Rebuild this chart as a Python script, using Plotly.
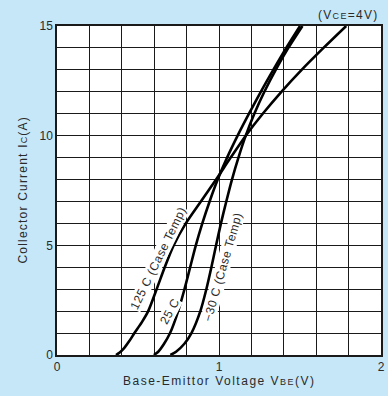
import plotly.graph_objects as go

# Base-emitter voltage (V) vs collector current (A)
ic_125 = [0, 0.1, 0.3, 0.6, 1, 1.5, 2, 3, 4, 5, 6, 7, 8, 9, 10, 11, 12, 13, 14, 15]
vbe_125 = [0.364, 0.385, 0.413, 0.443, 0.478, 0.524, 0.563, 0.615, 0.665, 0.72, 0.795, 0.888, 0.982, 1.072, 1.165, 1.27, 1.385, 1.51, 1.645, 1.785]

ic_25 = [0, 0.15, 0.5, 1, 2, 3, 4, 5, 6, 7, 8, 9, 10, 11, 12, 13, 14, 15]
vbe_25 = [0.598, 0.625, 0.66, 0.698, 0.748, 0.787, 0.822, 0.857, 0.897, 0.942, 0.992, 1.05, 1.115, 1.185, 1.258, 1.335, 1.415, 1.50]

ic_m30 = [0, 0.15, 0.5, 1, 2, 3, 4, 5, 6, 7, 8, 9, 10, 11, 12, 13, 14, 15]
vbe_m30 = [0.70, 0.735, 0.785, 0.83, 0.885, 0.922, 0.953, 0.982, 1.012, 1.045, 1.08, 1.12, 1.165, 1.218, 1.28, 1.35, 1.428, 1.515]

x_ticks = [0, 1, 2]
y_ticks = [0, 5, 10, 15]
x_grid = [round(i * 0.2, 1) for i in range(11)]
y_grid = list(range(16))

labels = ["125 C (Case Temp)", "25 C", "\u221230 C (Case Temp)"]
label_pos = [(0.626, 4.42, -64), (0.692, 1.98, -62), (1.025, 4.0, -74)]

FONT = "Liberation Sans, Arial, sans-serif"
TXT = "#2a2a2a"
BG = "#c6e7f8"


def spaced(s, px):
    return f"<span style='letter-spacing:{px}px'>{s}</span>"


fig = go.Figure()
for v, i in [(vbe_125, ic_125), (vbe_25, ic_25), (vbe_m30, ic_m30)]:
    fig.add_trace(go.Scatter(x=v, y=i, mode="lines",
                             line=dict(color="black", width=2.6, shape="spline", smoothing=0.8),
                             showlegend=False, hoverinfo="skip"))


def fmt(t):
    return str(int(round(t)))


fig.update_xaxes(range=[0, 2], tickvals=x_grid,
                 ticktext=[fmt(t) if any(abs(t - k) < 1e-9 for k in x_ticks) else "" for t in x_grid],
                 showgrid=True, gridcolor="#1a1a1a", gridwidth=1.2,
                 showline=True, linecolor="#1a1a1a", linewidth=1.5, mirror=True,
                 zeroline=False, ticks="", ticklabeloverflow="allow",
                 tickfont=dict(size=12, color=TXT, family=FONT))
fig.update_yaxes(range=[0, 15], tickvals=y_grid,
                 ticktext=[str(t) if t in y_ticks else "" for t in y_grid],
                 showgrid=True, gridcolor="#1a1a1a", gridwidth=1.2,
                 showline=True, linecolor="#1a1a1a", linewidth=1.5, mirror=True,
                 zeroline=False, ticks="", ticklabeloverflow="allow",
                 tickfont=dict(size=12, color=TXT, family=FONT))

for text, (x, y, ang) in zip(labels, label_pos):
    fig.add_annotation(x=x, y=y, text=spaced(text, 0.5), textangle=ang, showarrow=False,
                       font=dict(size=12, color=TXT, family=FONT),
                       bgcolor="white", borderpad=0)

fig.add_annotation(xref="paper", yref="paper", x=1.0, y=1.0, xanchor="right", yanchor="bottom",
                   yshift=2, xshift=0,
                   text=spaced("(V<span style='font-size:9px'>CE</span>=4V)", 1.3), showarrow=False,
                   font=dict(size=12, color=TXT, family=FONT))
fig.add_annotation(xref="paper", yref="paper", x=0.5, y=0, xanchor="center", yanchor="top", yshift=-17,
                   text=spaced("Base-Emittor Voltage V<span style='font-size:9px'>BE</span>(V)", 1.5),
                   showarrow=False, font=dict(size=12, color=TXT, family=FONT))
fig.add_annotation(xref="paper", yref="paper", x=0, y=0.5, xanchor="center", yanchor="middle", xshift=-35,
                   text=spaced("Collector Current I<span style='font-size:9px'>C</span>(A)", 1.2), textangle=-90,
                   showarrow=False, font=dict(size=12, color=TXT, family=FONT))

fig.update_layout(width=388, height=396, margin=dict(l=57, r=3, t=26, b=41),
                  paper_bgcolor=BG, plot_bgcolor="white", font=dict(family=FONT, color=TXT))
fig.write_html("out.html")
